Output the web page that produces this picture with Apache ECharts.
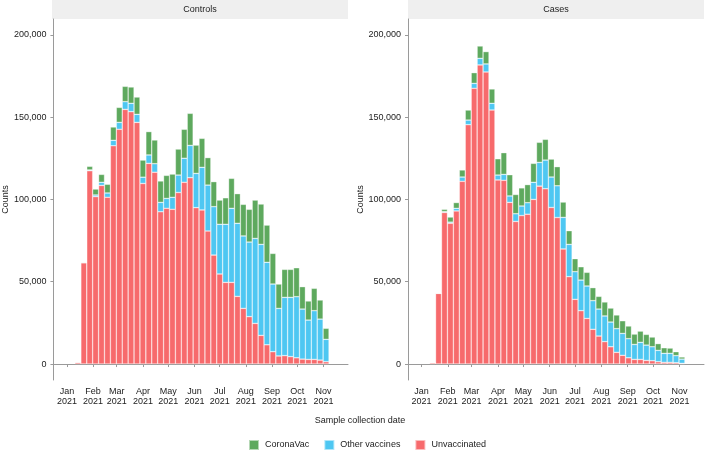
<!DOCTYPE html>
<html>
<head>
<meta charset="utf-8">
<script src="https://cdn.jsdelivr.net/npm/echarts@6/dist/echarts.min.js"></script>
<style>
html,body{margin:0;padding:0;background:#fff;}
#chart{width:705px;height:450px;}
</style>
</head>
<body>
<div id="chart"></div>
<script>
// Week centres (sample collection weeks)
const weeks = ['2021-01-14','2021-01-21','2021-01-28','2021-02-04','2021-02-11','2021-02-18','2021-02-25',
  '2021-03-04','2021-03-11','2021-03-18','2021-03-25','2021-04-01','2021-04-08','2021-04-15','2021-04-22','2021-04-29',
  '2021-05-06','2021-05-13','2021-05-20','2021-05-27','2021-06-03','2021-06-10','2021-06-17','2021-06-24',
  '2021-07-01','2021-07-08','2021-07-15','2021-07-22','2021-07-29','2021-08-05','2021-08-12','2021-08-19','2021-08-26',
  '2021-09-02','2021-09-09','2021-09-16','2021-09-23','2021-09-30','2021-10-07','2021-10-14','2021-10-21','2021-10-28',
  '2021-11-04'];
const monthTicks = ['2021-01-01','2021-02-01','2021-03-01','2021-04-01','2021-05-01','2021-06-01',
  '2021-07-01','2021-08-01','2021-09-01','2021-10-01','2021-11-01'];
const monthNames = ['Jan','Feb','Mar','Apr','May','Jun','Jul','Aug','Sep','Oct','Nov','Dec'];
const yTicks = [0, 50000, 100000, 150000, 200000];
const seriesNames = ['CoronaVac', 'Other vaccines', 'Unvaccinated'];
const panelNames = ['Controls', 'Cases'];

// Controls
const controlsUnvacc = [1000,61500,117400,101700,108500,101300,132600,142600,154700,153300,146800,109700,121900,116500,92500,94600,
  94000,104200,110400,113200,95000,93600,80800,66200,54700,49600,49600,41100,33800,28800,24700,17400,11700,
  7500,4900,5100,4500,3800,3000,2800,2800,2400,1400];
const controlsOther = [0,100,500,1000,1900,2600,3300,4200,4700,5100,4900,3800,5100,5200,5700,6000,
  7300,10600,14600,19600,20800,25900,27900,29400,30200,35300,45000,44400,44000,45300,51600,55300,50100,
  41100,28900,35400,36000,37100,30400,23900,29600,24900,13600];
const controlsCorona = [0,400,2200,3600,4800,5300,8100,9100,9300,9900,10500,10400,14200,14400,13000,14000,
  14100,15800,17600,19500,17200,17600,16700,15200,14700,16100,18200,18000,19200,19900,23300,24500,22600,
  18600,14800,17000,17000,17600,13600,11600,13600,11600,6700];

// Cases
const casesUnvacc = [800,42900,92100,85500,93000,111000,145400,167500,181700,177400,154300,111800,111600,98200,86600,90200,
  91000,100000,108100,106500,95100,89000,69900,53100,39300,32400,27700,21100,17000,13600,10500,7100,5300,
  3800,2800,2800,2200,2000,1400,1000,1000,800,400];
const casesOther = [0,0,500,700,1600,2600,2800,3000,4000,4900,4100,3000,3600,3900,4700,5800,
  7000,10400,14400,17400,18500,19300,19200,19600,16800,18600,19700,17400,16400,15600,15000,14400,13300,
  11600,9100,10400,9300,8500,6900,5500,5500,4300,2600];
const casesCorona = [0,0,1400,3100,3500,4300,6100,6500,7500,7500,8700,9900,13200,12900,11700,11000,
  11000,11500,12200,12600,10900,11600,9300,8300,7900,8100,8300,7900,7700,8500,8500,8300,7700,
  7700,6300,6800,6500,5900,4100,3400,3200,2400,1300];

const colors = {'CoronaVac':'#5EA95E','Other vaccines':'#4EC7F2','Unvaccinated':'#F76A6C'};

function toTime(s){ const p = s.split('-').map(Number); return new Date(p[0], p[1]-1, p[2]).getTime(); }
const monthTickMs = monthTicks.map(toTime);
const fontFamily = '"Liberation Sans", Arial, Helvetica, sans-serif';
const textColor = '#222';
const axisColor = '#9a9a9a';

const gridLefts = [52, 408];
const panelData = [
  {'Unvaccinated': controlsUnvacc, 'Other vaccines': controlsOther, 'CoronaVac': controlsCorona},
  {'Unvaccinated': casesUnvacc, 'Other vaccines': casesOther, 'CoronaVac': casesCorona}
];

const grids = [], xAxes = [], yAxes = [], series = [], graphics = [];
panelNames.forEach((pn, g) => {
  grids.push({left: gridLefts[g], top: 19, width: 296, height: 361, containLabel: false});
  xAxes.push({
    type: 'value', gridIndex: g,
    min: toTime('2020-12-16'), max: toTime('2021-11-30'),
    axisLine: {show: true, lineStyle: {color: axisColor, width: 1}},
    axisTick: {show: true, customValues: monthTickMs, length: 3, lineStyle: {color: axisColor}},
    axisLabel: {
      customValues: monthTickMs, margin: 6, fontSize: 9, lineHeight: 10.5, color: textColor, fontFamily,
      formatter: v => { const d = new Date(v); return monthNames[d.getMonth()] + '\n' + d.getFullYear(); }
    },
    splitLine: {show: false}
  });
  yAxes.push({
    type: 'value', gridIndex: g, min: -9700, max: 209600,
    axisLine: {show: true, lineStyle: {color: axisColor, width: 1}},
    axisTick: {show: true, customValues: yTicks, length: 3, lineStyle: {color: axisColor}},
    axisLabel: {customValues: yTicks, margin: 7, fontSize: 9, color: textColor, fontFamily,
      formatter: v => Number(v).toLocaleString('en-US')},
    splitLine: {show: false},
    name: 'Counts', nameLocation: 'middle', nameGap: 42,
    nameTextStyle: {fontSize: 9, color: textColor, fontFamily}
  });
  ['Unvaccinated', 'Other vaccines', 'CoronaVac'].forEach(name => {
    series.push({
      name, type: 'bar', stack: 'panel' + g, xAxisIndex: g, yAxisIndex: g,
      // count first so that the stack is applied to the count dimension
      encode: {x: 1, y: 0},
      barWidth: 5.95,
      itemStyle: {color: colors[name], borderColor: 'rgba(255,255,255,0.55)', borderWidth: 0.6},
      emphasis: {disabled: true},
      data: weeks.map((w, k) => [panelData[g][name][k], toTime(w)])
    });
  });
  graphics.push({type: 'rect', left: gridLefts[g], top: 0, shape: {width: 296, height: 19}, style: {fill: '#EFEFEF'}, silent: true});
  graphics.push({type: 'text', x: gridLefts[g] + 148, y: 10, style: {text: pn, fill: textColor, font: '9px ' + fontFamily, textAlign: 'center', textVerticalAlign: 'middle'}, silent: true});
});
graphics.push({type: 'text', x: 360, y: 421, style: {text: 'Sample collection date', fill: textColor, font: '9px ' + fontFamily, textAlign: 'center', textVerticalAlign: 'middle'}, silent: true});

const chart = echarts.init(document.getElementById('chart'), null, {renderer: 'canvas'});
chart.setOption({
  animation: false,
  backgroundColor: '#fff',
  grid: grids, xAxis: xAxes, yAxis: yAxes, series,
  graphic: graphics,
  legend: {
    data: seriesNames, left: 243, top: 434, itemWidth: 10, itemHeight: 10, itemGap: 14,
    icon: 'rect', selectedMode: false,
    textStyle: {fontSize: 9, color: textColor, fontFamily, padding: [0, 0, 0, 1]}
  }
});
</script>
</body>
</html>
